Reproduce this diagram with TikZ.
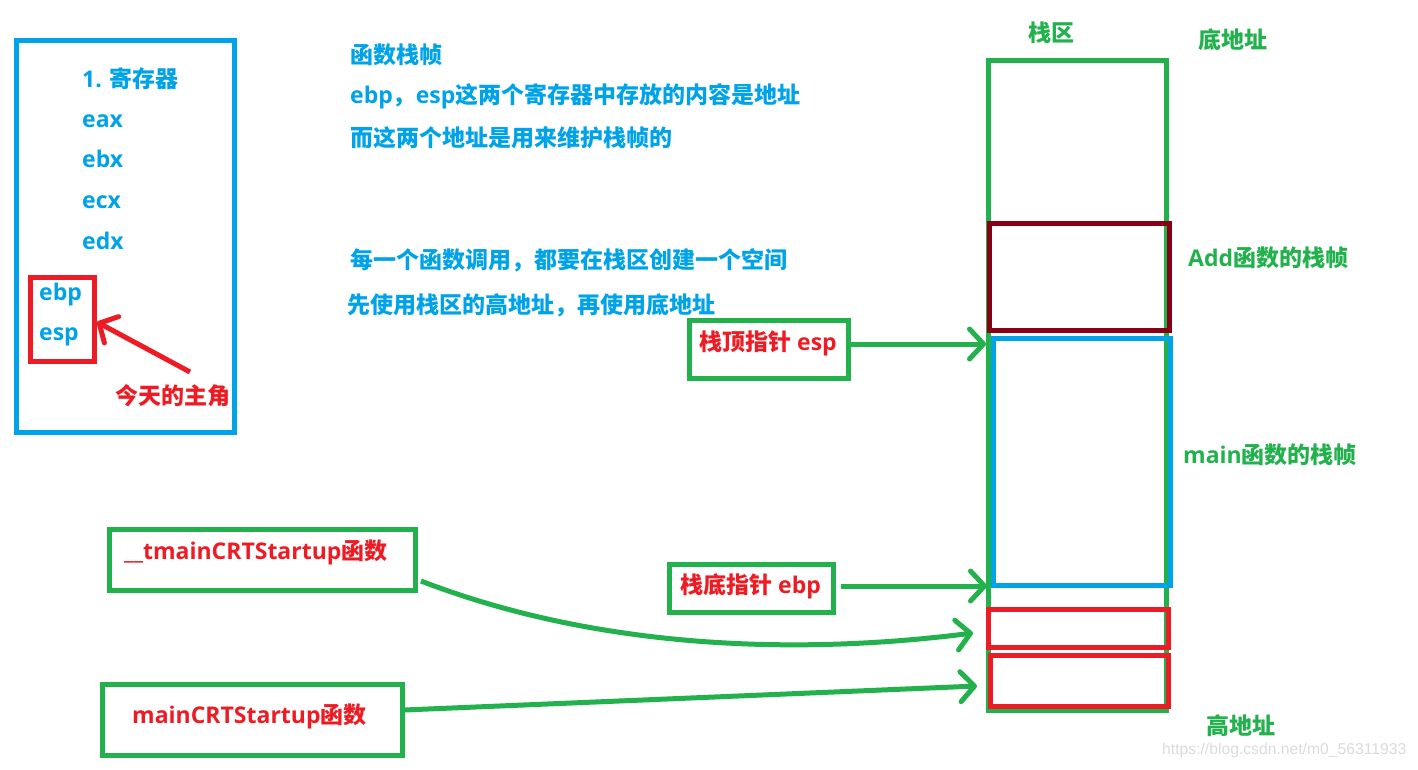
\documentclass[tikz,border=0pt]{standalone}
\usepackage{fontspec}
\setmainfont{Open Sans}
\newfontfamily\cjkfont{Noto Sans CJK SC}
\newfontfamily\wmfont{Liberation Sans}
\usetikzlibrary{arrows.meta}
\definecolor{pgreen}{HTML}{22B14C}
\definecolor{pblue}{HTML}{00A2E8}
\definecolor{pred}{HTML}{ED1C24}
\definecolor{pdark}{HTML}{880015}
\newcommand\zh[1]{{\cjkfont #1}}
\tikzset{
  txt/.style={inner sep=0pt, font=\fontsize{23}{28}\selectfont\bfseries},
  frame/.style={draw, line width=5pt, inner sep=0pt, outer sep=0pt},
  arr/.style={line width=5pt, -{Straight Barb[round,length=14pt,width=30pt]}},
}
\begin{document}
\begin{tikzpicture}[x=1pt,y=-1pt]
\useasboundingbox (0,0) rectangle (1418,769);

% left register box
\node[frame, draw=pblue, minimum width=218pt, minimum height=392pt] (regbox) at (125.5,236.5) {};
\node[txt, text=pblue, anchor=base west] (reg) at (82,87) {1. \zh{寄存器}};
\node[txt, text=pblue, anchor=base west] (eax) at (82,127) {eax};
\node[txt, text=pblue, anchor=base west] (ebx) at (82,167.5) {ebx};
\node[txt, text=pblue, anchor=base west] (ecx) at (82,208) {ecx};
\node[txt, text=pblue, anchor=base west] (edx) at (82,249) {edx};
\node[frame, draw=pred, minimum width=64pt, minimum height=84pt] (hlbox) at (62,319) {};
\node[txt, text=pblue, anchor=base west] (ebpreg) at (39,300) {ebp};
\node[txt, text=pblue, anchor=base west] (espreg) at (39,340) {esp};
\node[txt, text=pred, anchor=west] (hero) at (115,396) {\zh{今天的主角}};
\coordinate (redtail) at (190,372);
\coordinate (redtip) at (97,322);
\draw[arr, pred] (redtail) -- (redtip);

% middle texts
\node[txt, text=pblue, anchor=west] (t1) at (350,55) {\zh{函数栈帧}};
\node[txt, text=pblue, anchor=base west] (t2) at (350,103) {ebp\zh{，}esp\zh{这两个寄存器中存放的内容是地址}};
\node[txt, text=pblue, anchor=west] (t3) at (350,138) {\zh{而这两个地址是用来维护栈帧的}};
\node[txt, text=pblue, anchor=west] (t4) at (350,260) {\zh{每一个函数调用，都要在栈区创建一个空间}};
\node[txt, text=pblue, anchor=west] (t5) at (347,305.5) {\zh{先使用栈区的高地址，再使用底地址}};

% stack
\node[frame, draw=pgreen, minimum width=178pt, minimum height=650pt] (stack) at (1077.5,385.5) {};
\node[frame, draw=pdark, minimum width=180pt, minimum height=107pt] (addframe) at (1079.5,277) {};
\node[frame, draw=pblue, minimum width=177pt, minimum height=247pt] (mainframe) at (1082,462) {};
\node[frame, draw=pred, minimum width=180pt, minimum height=38pt] (tframe) at (1078.5,628.5) {};
\node[frame, draw=pred, minimum width=178pt, minimum height=51pt] (mframe) at (1079.5,681) {};

\node[txt, text=pgreen, anchor=west] (zq) at (1028,33) {\zh{栈区}};
\node[txt, text=pgreen, anchor=west] (low) at (1198,40) {\zh{底地址}};
\node[txt, text=pgreen, anchor=west] (addl) at (1188,258) {Add\zh{函数的栈帧}};
\node[txt, text=pgreen, anchor=west] (mainl) at (1183,455) {main\zh{函数的栈帧}};
\node[txt, text=pgreen, anchor=west] (high) at (1206,726) {\zh{高地址}};
\node[inner sep=0pt, anchor=west, text=black!14, font=\fontsize{15.7}{18}\selectfont\wmfont] (wm) at (1162,750) {https://blog.csdn.net/m0\_56311933};

% pointer boxes
\node[frame, draw=pgreen, minimum width=159pt, minimum height=58pt] (espbox) at (769,349.5) {};
\node[txt, text=pred, anchor=base west] (esptxt) at (699,350) {\zh{栈顶指针} esp};
\node[frame, draw=pgreen, minimum width=164pt, minimum height=48pt] (ebpbox) at (751.5,588.5) {};
\node[txt, text=pred, anchor=base west] (ebptxt) at (680,593) {\zh{栈底指针} ebp};

\node[frame, draw=pgreen, minimum width=306pt, minimum height=61pt] (tmainbox) at (262.5,560) {};
\node[txt, text=pred, anchor=base west] (tmaintxt) at (124,559) {\_\_tmainCRTStartup\zh{函数}};
\node[frame, draw=pgreen, minimum width=300pt, minimum height=71pt] (mainbox) at (252.5,720) {};
\node[txt, text=pred, anchor=base west] (maintxt) at (132,723) {mainCRTStartup\zh{函数}};

% arrows
\coordinate (tipA) at (986,344);
\coordinate (tipB) at (987,586);
\coordinate (startC) at (421,581);
\coordinate (tipC) at (973,633);
\coordinate (startD) at (404,710);
\coordinate (tipD) at (977,686);
\draw[arr, pgreen] (espbox.east |- tipA) -- (tipA);
\draw[arr, pgreen] ([xshift=7pt]ebpbox.east |- tipB) -- (tipB);
\draw[arr, pgreen] (startC) .. controls (600,650) and (800,655) .. (tipC);
\draw[arr, pgreen] (startD) -- (tipD);
\end{tikzpicture}
\end{document}
